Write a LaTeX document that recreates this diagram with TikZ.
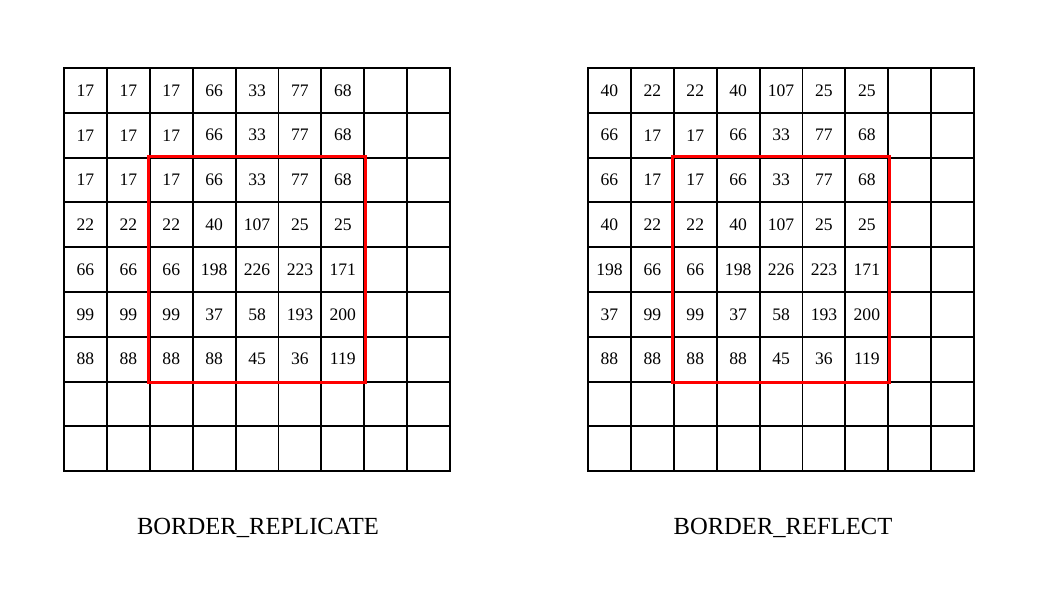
\documentclass[tikz,border=0pt]{standalone}
\usepackage{fontspec}
\setmainfont{Liberation Serif}
\tikzset{
  cell/.style={draw, line width=1.3pt, minimum width=1.0725cm, minimum height=1.12cm,
    inner sep=0pt, font=\fontsize{12.5}{14}\selectfont},
  window/.style={draw=red, line width=2.2pt},
  caption/.style={font=\fontsize{17.5}{20}\selectfont}
}
\begin{document}
\begin{tikzpicture}[x=0.025cm,y=-0.025cm]
    \useasboundingbox (0,0) rectangle (1040,595);
    % BORDER_REPLICATE
    \foreach \row [count=\r from 0] in {
      {17,17,17,66,33,77,68,{},{}},
      {17,17,17,66,33,77,68,{},{}},
      {17,17,17,66,33,77,68,{},{}},
      {22,22,22,40,107,25,25,{},{}},
      {66,66,66,198,226,223,171,{},{}},
      {99,99,99,37,58,193,200,{},{}},
      {88,88,88,88,45,36,119,{},{}},
      {{},{},{},{},{},{},{},{},{}},
      {{},{},{},{},{},{},{},{},{}}}
 {
    \foreach \v [count=\c from 0] in \row
    \node[cell] (L\r\c) at (85.45+42.9*\c, 90.4+44.8*\r) {\v};
 }
    \draw[window] (L22.north west) rectangle (L66.south east);
    \node[caption] (lcap) at (258,528) {BORDER\_REPLICATE};
    % BORDER_REFLECT
    \foreach \row [count=\r from 0] in {
      {40,22,22,40,107,25,25,{},{}},
      {66,17,17,66,33,77,68,{},{}},
      {66,17,17,66,33,77,68,{},{}},
      {40,22,22,40,107,25,25,{},{}},
      {198,66,66,198,226,223,171,{},{}},
      {37,99,99,37,58,193,200,{},{}},
      {88,88,88,88,45,36,119,{},{}},
      {{},{},{},{},{},{},{},{},{}},
      {{},{},{},{},{},{},{},{},{}}}
 {
    \foreach \v [count=\c from 0] in \row
    \node[cell] (R\r\c) at (609.45+42.9*\c, 90.4+44.8*\r) {\v};
 }
    \draw[window] (R22.north west) rectangle (R66.south east);
    \node[caption] (rcap) at (783,528) {BORDER\_REFLECT};
\end{tikzpicture}
\end{document}
